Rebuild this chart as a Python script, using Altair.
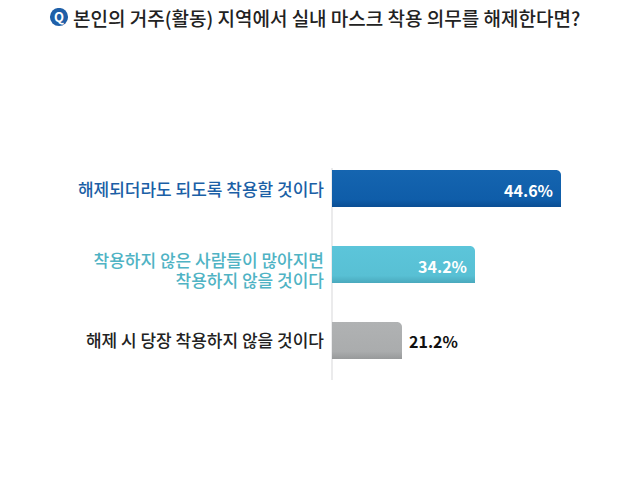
import altair as alt
import pandas as pd

title_text = "본인의 거주(활동) 지역에서 실내 마스크 착용 의무를 해제한다면?"
badge_text = "Q"
categories = ["해제되더라도 되도록 착용할 것이다",
              "착용하지 않은 사람들이 많아지면\n착용하지 않을 것이다",
              "해제 시 당장 착용하지 않을 것이다"]
values = [44.6, 34.2, 21.2]
value_labels = ["44.6%", "34.2%", "21.2%"]
label_colors = ["#1b5fa6", "#4fb3c4", "#222222"]
gradients = [["#1565b0", "#0f5da9", "#0a4e94"],
             ["#5cc5da", "#58c0d4", "#4aa9bd"],
             ["#b0b2b3", "#aaacad", "#97999a"]]

FONT = "Noto Sans CJK KR"
df = pd.DataFrame({"cat": categories, "val": values, "vlabel": value_labels,
                   "lcolor": label_colors})

# The reference bars are not drawn proportionally, so the scale is piecewise.
x_scale = alt.Scale(domain=[0, 21.2, 34.2, 44.6], range=[324, 394, 467, 553])
y_scale = alt.Scale(domain=categories, range=[162, 351], paddingInner=0.513, paddingOuter=0)
X = alt.X("val:Q", scale=x_scale, axis=None)
Y = alt.Y("cat:N", scale=y_scale, axis=None, sort=categories)

bars = []
for c, g in zip(categories, gradients):
    grad = alt.LinearGradient(gradient="linear", x1=0, x2=0, y1=0, y2=1,
                              stops=[alt.GradientStop(color=g[0], offset=0),
                                     alt.GradientStop(color=g[1], offset=0.8),
                                     alt.GradientStop(color=g[2], offset=1)])
    bars.append(alt.Chart(df[df.cat == c]).mark_bar(color=grad, cornerRadiusTopRight=5)
                .transform_calculate(zero="0")
                .encode(x=alt.X("zero:Q", scale=x_scale, axis=None), x2="val:Q", y=Y))

rule = alt.Chart(df.head(1)).mark_rule(color="#e4e4e6", strokeWidth=1.5).encode(
    x=alt.value(324), y=alt.value(160), y2=alt.value(372))

def cat_layer(frame, dy):
    return alt.Chart(frame).mark_text(font=FONT, fontSize=17, fontWeight=500, align="right",
                                      baseline="middle", lineBreak="\n", lineHeight=20, dy=dy).encode(
        x=alt.value(316), y=Y, text="cat:N", color=alt.Color("lcolor:N", scale=None))

cats_single = cat_layer(df[df.val != 34.2], 2)
cats_double = cat_layer(df[df.val == 34.2], -3)

inside = alt.Chart(df[df.val > 30]).mark_text(font=FONT, fontSize=16, fontWeight=700, align="right",
                                              baseline="middle", dx=-8, dy=3, color="#ffffff").encode(
    x=X, y=Y, text="vlabel:N")
outside = alt.Chart(df[df.val < 30]).mark_text(font=FONT, fontSize=16, fontWeight=700, align="left",
                                               baseline="middle", dx=7, dy=3, color="#111111").encode(
    x=X, y=Y, text="vlabel:N")

head = pd.DataFrame({"t": [title_text], "b": [badge_text]})
title = alt.Chart(head).mark_text(font=FONT, fontSize=19, fontWeight=500, align="left",
                                  baseline="alphabetic", color="#222222").encode(
    x=alt.value(65), y=alt.value(18), text="t:N")
badge = alt.Chart(head).mark_point(filled=True, shape="circle", size=330, opacity=1,
                                   color="#1f5fa8").encode(x=alt.value(51), y=alt.value(9))
badge_t = alt.Chart(head).mark_text(font=FONT, fontSize=13, fontWeight=700, color="#ffffff",
                                    baseline="middle", align="center", dy=1).encode(
    x=alt.value(51), y=alt.value(9), text="b:N")

chart = alt.layer(rule, *bars, cats_single, cats_double, inside, outside, title, badge, badge_t).properties(
    width=624, height=464, padding=0, autosize=alt.AutoSizeParams(type="none"),
    background="#ffffff").configure_view(stroke=None)
chart.save("out.html", embed_options={"renderer": "svg", "actions": False})
